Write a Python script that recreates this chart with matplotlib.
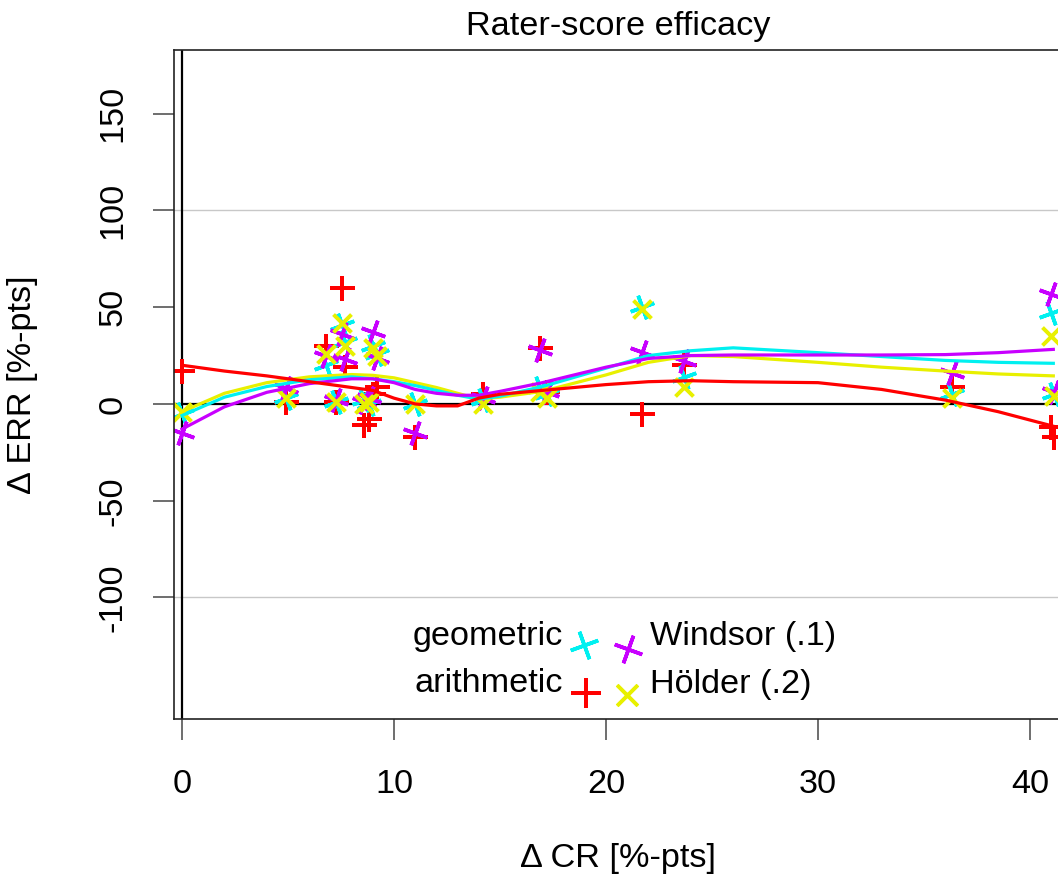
import matplotlib
matplotlib.use("Agg")
import matplotlib.pyplot as plt

plt.rcParams['font.family'] = ['Liberation Sans', 'DejaVu Sans']
plt.rcParams['axes.unicode_minus'] = False

# Dados: Delta CR (eixo x) e Delta ERR de cada agregacao
cr = [0.0, 4.9, 6.8, 7.55, 7.7, 7.25, 8.6, 8.8, 9.0, 9.2, 11.0, 14.2, 16.9, 17.2, 21.7, 23.7, 36.3, 41.0, 41.15]
arithmetic = [17, 1, 30, 60, 19, 1, -11, -8, 5, 9, -17, 5, 29, 6, -5, 20, 9, -12, -17]
geometric = [-5, 3, 20, 41, 32, 1, 2, 0, 30, 26, 0, 2, 8, 5, 50, 14, 5, 47, 5]
windsor = [-15, 8, 25, 36, 23, 2, 1, 3, 37, 24, -15, 3, 28, 6, 27, 22, 16, 57, 6]
holder = [-4, 3, 26, 42, 30, 1, 0, 1, 29, 25, 0, 0, 6, 3, 49, 9, 3, 35, 4]

# Curvas suavizadas
fit_x = [0, 2, 4, 6, 8, 9, 10, 11, 12, 13, 14, 15, 17, 20, 22, 24, 26, 30, 33, 36, 38.5, 41.1]
fit_arithmetic = [20, 17, 14.5, 11.5, 8.5, 7, 3, 0, -1, -1, 3, 5, 7, 10, 11.5, 12, 11.5, 11, 7.5, 2, -4, -11.5]
fit_geometric = [-6, 3.5, 9, 12.5, 14, 13, 11.5, 9.5, 7, 4.5, 2.5, 4, 9, 18.5, 25, 27.5, 29, 26.5, 24.5, 22.5, 21.5, 21]
fit_windsor = [-13, -1.5, 6, 10.5, 13, 13, 11, 7.5, 5.5, 4.5, 4.5, 6.5, 11, 19, 23.5, 25, 25.3, 25.3, 25.3, 25.5, 26.5, 28.2]
fit_holder = [-4, 5.5, 11, 14, 15.2, 14.8, 13.5, 11, 8.5, 5.5, 2.5, 3.5, 6.5, 15, 21.5, 25, 24.5, 21.5, 19, 17, 15.5, 14.5]

y_ticks = [-100, -50, 0, 50, 100, 150]
x_ticks = [0, 10, 20, 30, 40]

RED = '#FF0000'
CYAN = '#00F0F0'
MAGENTA = '#C800FF'
YELLOW = '#E8F000'

# marcadores: cruz de 4 bracos girada
m_arith = (4, 2, 0)
m_geo = (4, 2, 20)
m_wind = (4, 2, -20)
m_hold = (4, 2, 45)

fig = plt.figure(figsize=(10.58, 8.82), dpi=100)
ax = fig.add_axes([174 / 1058, 163 / 882, 888 / 1058, 669 / 882])

# linhas de referencia
ax.axhline(100, color='#c8c8c8', lw=1)
ax.axhline(-100, color='#c8c8c8', lw=1)
ax.axhline(0, color='black', lw=1.6)
ax.axvline(0, color='black', lw=1.6)

# pontos
ax.plot(cr, arithmetic, ls='none', marker=m_arith, ms=18, mew=2.6, mec=RED)
ax.plot(cr, geometric, ls='none', marker=m_geo, ms=18, mew=2.6, mec=CYAN)
ax.plot(cr, windsor, ls='none', marker=m_wind, ms=18, mew=2.6, mec=MAGENTA)
ax.plot(cr, holder, ls='none', marker=m_hold, ms=18, mew=2.6, mec=YELLOW)

# curvas
ax.plot(fit_x, fit_holder, color=YELLOW, lw=2.3)
ax.plot(fit_x, fit_geometric, color=CYAN, lw=2.3)
ax.plot(fit_x, fit_windsor, color=MAGENTA, lw=2.3)
ax.plot(fit_x, fit_arithmetic, color=RED, lw=2.3)

ax.set_xlim(-0.377, 41.51)
ax.set_ylim(-162.8, 182.9)
ax.set_xticks(x_ticks)
ax.set_yticks(y_ticks)
ax.tick_params(length=15, width=1.2, color='#555555', labelsize=24.7, pad=21)
ax.tick_params(axis='y', labelrotation=90, pad=18)
for lab in ax.get_yticklabels():
    lab.set_va('center')
for s in ['left', 'bottom', 'top']:
    ax.spines[s].set_color('#222222')
    ax.spines[s].set_linewidth(1.2)
ax.spines['right'].set_visible(False)

# titulo e rotulos
ax.set_title('Rater-score efficacy', fontsize=24.7, y=(719 - 27) / 669, va='center', pad=0)
ax.set_xlabel('Δ CR [%-pts]', fontsize=24.7, va='center')
ax.xaxis.set_label_coords(0.5, (719 - 858) / 669)
ax.set_ylabel('Δ ERR [%-pts]', fontsize=24.7, va='center')
ax.yaxis.set_label_coords((23 - 174) / 888, 0.5)

# legenda feita a mao
def axx(px):
    return (px - 174) / 888

def axy(py):
    return (719 - py) / 669

ax.text(axx(563), axy(636), 'geometric', transform=ax.transAxes, ha='right', va='center', fontsize=24.7)
ax.text(axx(563), axy(684), 'arithmetic', transform=ax.transAxes, ha='right', va='center', fontsize=24.7)
ax.text(axx(650), axy(636), 'Windsor (.1)', transform=ax.transAxes, ha='left', va='center', fontsize=24.7)
ax.text(axx(650), axy(684), 'Hölder (.2)', transform=ax.transAxes, ha='left', va='center', fontsize=24.7)
ax.plot([axx(584)], [axy(645)], transform=ax.transAxes, marker=m_geo, ms=21, mew=2.6, mec=CYAN, ls='none')
ax.plot([axx(628)], [axy(649)], transform=ax.transAxes, marker=m_wind, ms=21, mew=2.6, mec=MAGENTA, ls='none')
ax.plot([axx(586)], [axy(693)], transform=ax.transAxes, marker=m_arith, ms=21, mew=2.6, mec=RED, ls='none')
ax.plot([axx(627)], [axy(695)], transform=ax.transAxes, marker=m_hold, ms=21, mew=2.6, mec=YELLOW, ls='none')

fig.savefig('out.png', dpi=100)
